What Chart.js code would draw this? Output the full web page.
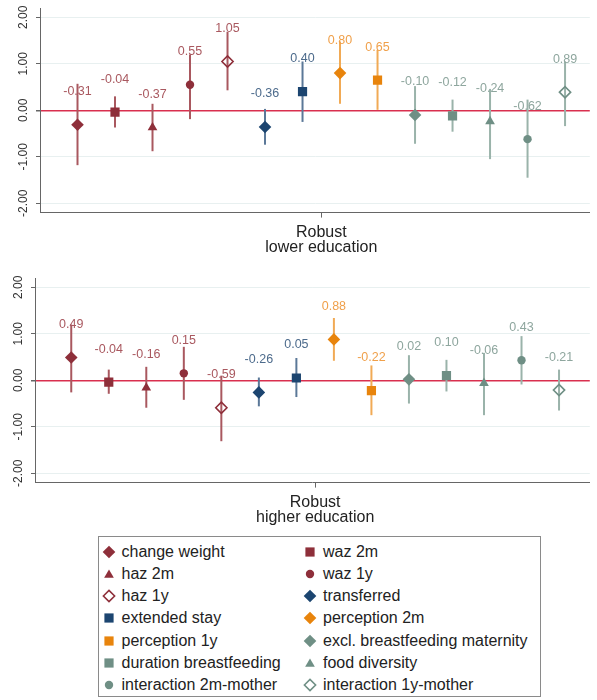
<!DOCTYPE html>
<html>
<head>
<meta charset="utf-8">
<script src="https://cdn.jsdelivr.net/npm/chart.js@4/dist/chart.umd.min.js"></script>
<style>
  html, body { margin: 0; padding: 0; background: #fff; }
  body { width: 597px; height: 700px; position: relative; overflow: hidden; font-family: "Liberation Sans", Arial, sans-serif; }
  canvas { position: absolute; left: 0; display: block; }
  #c1 { top: 0; }
  #c2 { top: 270px; }
  #legend { position: absolute; left: 98px; top: 536px; width: 443px; height: 161px; box-sizing: border-box; border: 1px solid #8a8a8a; }
  .item { position: absolute; height: 22px; display: flex; align-items: center; font-size: 16px; color: #222; white-space: nowrap; }
  .item svg { display: block; margin-right: 6px; }
</style>
</head>
<body>
<canvas id="c1" width="597" height="262"></canvas>
<canvas id="c2" width="597" height="262"></canvas>
<div id="legend"></div>
<script>
// ---------------- data ----------------
const seriesNames = ['change weight','waz 2m','haz 2m','waz 1y','haz 1y','transferred','extended stay',
  'perception 2m','perception 1y','excl. breastfeeding maternity','duration breastfeeding','food diversity',
  'interaction 2m-mother','interaction 1y-mother'];

const lowerEst    = [-0.31,-0.04,-0.37,0.55,1.05,-0.36,0.40,0.80,0.65,-0.10,-0.12,-0.24,-0.62,0.39];
const lowerLabels = ['-0.31','-0.04','-0.37','0.55','1.05','-0.36','0.40','0.80','0.65','-0.10','-0.12','-0.24','-0.62','0.89'];
const lowerLo     = [-1.18,-0.37,-0.88,-0.19,0.43,-0.74,-0.25,0.14,0.01,-0.72,-0.46,-1.05,-1.45,-0.34];
const lowerHi     = [0.57,0.30,0.14,1.20,1.69,0.03,1.05,1.48,1.30,0.52,0.23,0.46,0.23,1.05];

const higherEst    = [0.49,-0.04,-0.16,0.15,-0.59,-0.26,0.05,0.88,-0.22,0.02,0.10,-0.06,0.43,-0.21];
const higherLabels = ['0.49','-0.04','-0.16','0.15','-0.59','-0.26','0.05','0.88','-0.22','0.02','0.10','-0.06','0.43','-0.21'];
const higherLo     = [-0.26,-0.29,-0.59,-0.42,-1.31,-0.56,-0.36,0.42,-0.75,-0.50,-0.24,-0.75,-0.09,-0.65];
const higherHi     = [1.20,0.23,0.29,0.72,0.10,0.06,0.48,1.34,0.32,0.54,0.44,0.59,0.95,0.23];

const yTicks = [-2, -1, 0, 1, 2];
const yTickLabels = ['-2.00', '-1.00', '0.00', '1.00', '2.00'];
const lowerAxisLabel = ['Robust', 'lower education'];
const higherAxisLabel = ['Robust', 'higher education'];

// ---------------- styles ----------------
const shapes = ['rectRot','rect','triangle','circle','rectRot','rectRot','rect','rectRot','rect','rectRot','rect','triangle','circle','rectRot'];
const hollow = [false,false,false,false,true,false,false,false,false,false,false,false,false,true];
const group  = [0,0,0,0,0,1,1,2,2,3,3,3,3,3];
const markerColors = ['#8e2f3a', '#1c4570', '#e8840c', '#6f8f85'];
const ciColors     = ['#a9585f', '#5b7898', '#f1aa55', '#9ab3aa'];
const labelColors  = ['#a9585f', '#4d6b8c', '#f0a04a', '#8ea69e'];
const radii = { rectRot: 6.3, rect: 6.5, triangle: 5.6, circle: 4.2 };
const hollowRadius = 5.6;
const FONT = '"Liberation Sans", Arial, sans-serif';

function makeChart(canvasId, est, lo, hi, labels, axisLabel, yAxisWidth, xMin, xMax) {
  const datasets = est.map((v, i) => {
    const c = markerColors[group[i]];
    return {
      label: seriesNames[i],
      data: [{ x: i + 1, y: v }],
      pointStyle: shapes[i],
      pointRadius: hollow[i] ? hollowRadius : radii[shapes[i]],
      backgroundColor: hollow[i] ? 'rgba(255,255,255,0)' : c,
      borderColor: c,
      borderWidth: hollow[i] ? 1.6 : 0,
      showLine: false
    };
  });

  const ciPlugin = {
    id: 'ci',
    beforeDatasetsDraw(chart) {
      const { ctx, scales: { x, y } } = chart;
      ctx.save();
      ctx.lineWidth = 2;
      ctx.lineCap = 'butt';
      est.forEach((v, i) => {
        const px = x.getPixelForValue(i + 1);
        ctx.strokeStyle = ciColors[group[i]];
        ctx.beginPath();
        ctx.moveTo(px, y.getPixelForValue(lo[i]));
        ctx.lineTo(px, y.getPixelForValue(hi[i]));
        ctx.stroke();
      });
      ctx.restore();
    },
    afterDatasetsDraw(chart) {
      const { ctx } = chart;
      ctx.save();
      ctx.font = '12.5px ' + FONT;
      ctx.textAlign = 'center';
      ctx.textBaseline = 'middle';
      est.forEach((v, i) => {
        const el = chart.getDatasetMeta(i).data[0];
        ctx.fillStyle = labelColors[group[i]];
        ctx.fillText(labels[i], el.x, el.y - 33);
      });
      ctx.restore();
    },
    afterDraw(chart) {
      const { ctx, scales: { y } } = chart;
      ctx.save();
      ctx.font = '12px ' + FONT;
      ctx.fillStyle = '#333';
      ctx.textAlign = 'center';
      ctx.textBaseline = 'middle';
      yTicks.forEach((v, i) => {
        const py = y.getPixelForValue(v);
        ctx.save();
        ctx.translate(y.right - 16.5, py);
        ctx.rotate(-Math.PI / 2);
        ctx.fillText(yTickLabels[i], 0, 0);
        ctx.restore();
      });
      ctx.restore();
    }
  };

  return new Chart(document.getElementById(canvasId), {
    type: 'scatter',
    data: { datasets },
    plugins: [ciPlugin],
    options: {
      responsive: false,
      animation: false,
      events: [],
      layout: { padding: { top: 8, left: 0, right: 0, bottom: 0 } },
      plugins: { legend: { display: false }, tooltip: { enabled: false } },
      scales: {
        x: {
          type: 'linear',
          min: xMin, max: xMax,
          afterBuildTicks: s => { s.ticks = [{ value: 7.5 }]; },
          afterFit: s => { s.height = 49.4; },
          ticks: {
            callback: () => axisLabel,
            font: { family: FONT, size: 16, lineHeight: 0.9 },
            color: '#222',
            padding: 8,
            maxRotation: 0, minRotation: 0,
            autoSkip: false
          },
          grid: { display: true, drawOnChartArea: false, drawTicks: true, tickLength: 5, tickColor: '#666', color: '#666' },
          border: { display: true, color: '#666', width: 1 }
        },
        y: {
          type: 'linear',
          min: -2.2, max: 2.2,
          afterBuildTicks: s => { s.ticks = yTicks.map(v => ({ value: v })); },
          afterFit: s => { s.width = yAxisWidth; },
          ticks: { display: false },
          grid: {
            color: c => (c.tick && c.tick.value === 0) ? '#d9304f' : '#e8f0f0',
            lineWidth: c => (c.tick && c.tick.value === 0) ? 1.5 : 1,
            tickColor: '#666',
            tickLength: 4,
            drawTicks: true
          },
          border: { display: true, color: '#666', width: 1 }
        }
      }
    }
  });
}

makeChart('c1', lowerEst, lowerLo, lowerHi, lowerLabels, lowerAxisLabel, 40, 0, 14.66);
makeChart('c2', higherEst, higherLo, higherHi, higherLabels, higherAxisLabel, 35, 0.034, 14.82);

// ---------------- legend ----------------
function markerSVG(i) {
  const r = hollow[i] ? hollowRadius : radii[shapes[i]];
  const c = markerColors[group[i]];
  const size = 14, m = 7;
  let shape = '';
  const fill = hollow[i] ? 'none' : c;
  const stroke = hollow[i] ? `stroke="${c}" stroke-width="1.6"` : '';
  if (shapes[i] === 'rectRot') {
    shape = `<polygon points="${m-r},${m} ${m},${m-r} ${m+r},${m} ${m},${m+r}" fill="${fill}" ${stroke}/>`;
  } else if (shapes[i] === 'rect') {
    const s = r * Math.SQRT1_2;
    shape = `<rect x="${m-s}" y="${m-s}" width="${2*s}" height="${2*s}" fill="${fill}"/>`;
  } else if (shapes[i] === 'triangle') {
    const pts = [-90, 30, 150].map(a => `${m + r*Math.cos(a*Math.PI/180)},${m + 1 + r*Math.sin(a*Math.PI/180)}`).join(' ');
    shape = `<polygon points="${pts}" fill="${fill}"/>`;
  } else {
    shape = `<circle cx="${m}" cy="${m}" r="${r}" fill="${fill}"/>`;
  }
  return `<svg width="${size}" height="${size}" viewBox="0 0 ${size} ${size}">${shape}</svg>`;
}
const legend = document.getElementById('legend');
seriesNames.forEach((name, i) => {
  const row = Math.floor(i / 2), col = i % 2;
  const d = document.createElement('div');
  d.className = 'item';
  d.style.left = (col === 0 ? 2.5 : 204) + 'px';
  d.style.top = (3.5 + row * 22.3) + 'px';
  d.innerHTML = markerSVG(i) + '<span>' + name + '</span>';
  legend.appendChild(d);
});
</script>
</body>
</html>
